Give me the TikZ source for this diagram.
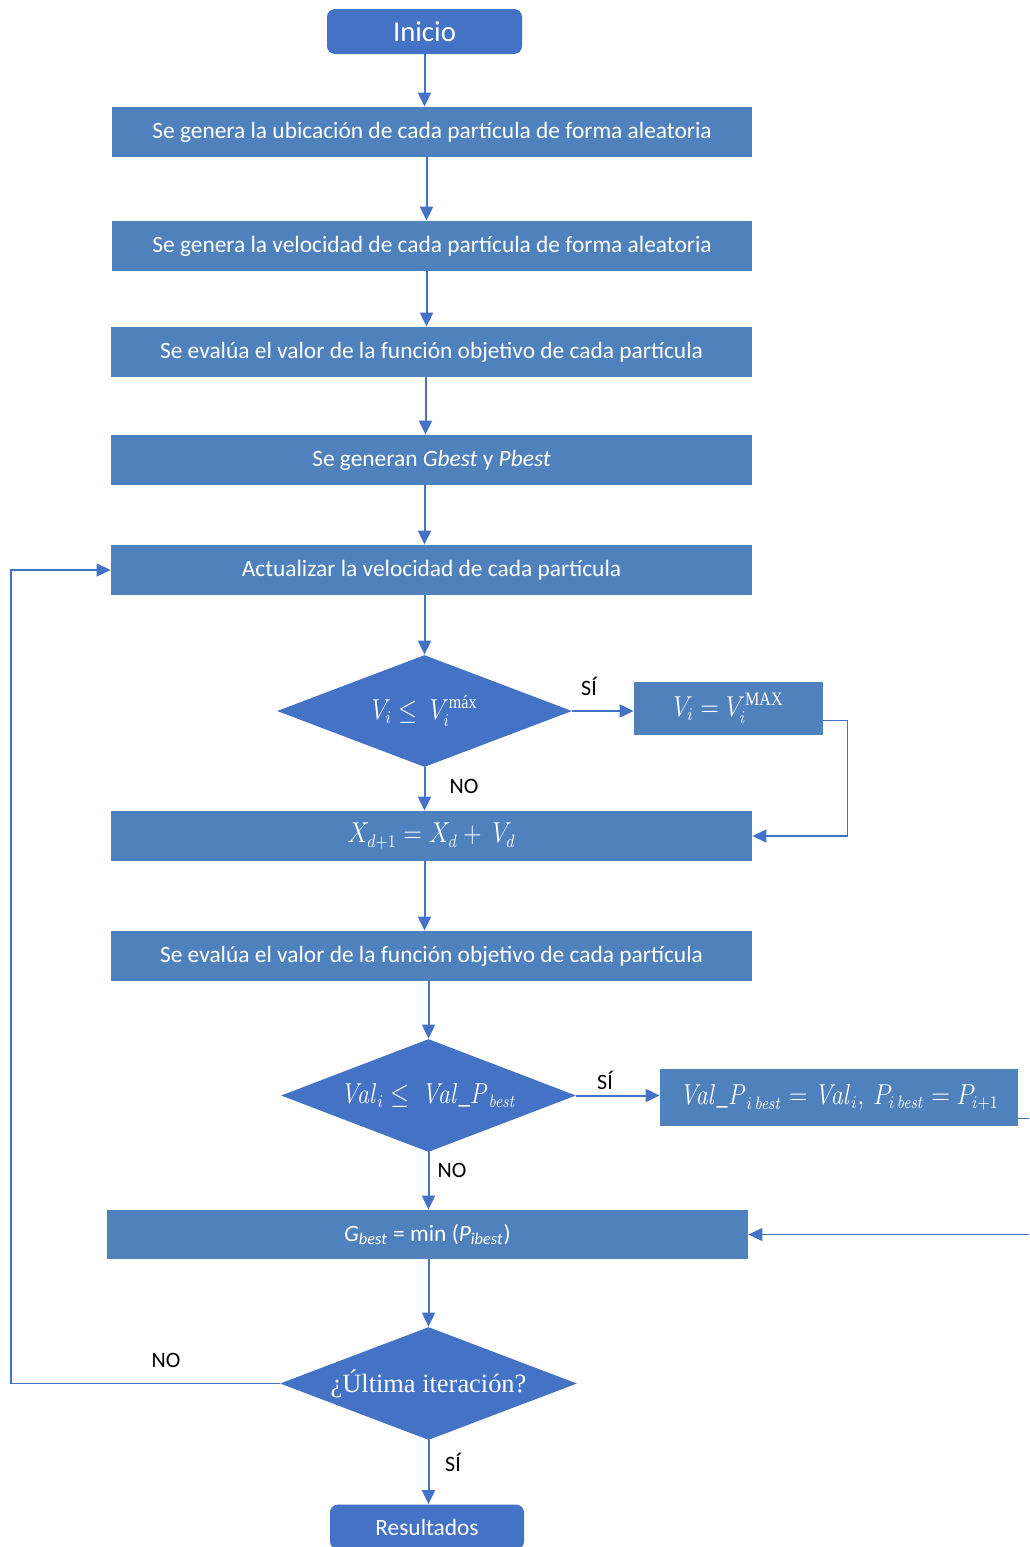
\documentclass[tikz,border=0pt]{standalone}
\usepackage[no-math]{fontspec}
\usepackage{amsmath}
\setmainfont{Carlito}
\newfontfamily\serifont{Liberation Serif}
\usetikzlibrary{arrows.meta,shapes.geometric}
\definecolor{boxblue}{HTML}{4F81BD}
\definecolor{darkblue}{HTML}{4472C4}
\tikzset{
  procbox/.style={fill=boxblue, text=white, inner sep=0pt, font=\fontsize{11.7}{14}\selectfont},
  decision/.style={diamond, fill=darkblue, text=white, inner sep=0pt, shape aspect=2.6},
  terminal/.style={rounded corners=4pt, fill=darkblue, text=white, inner sep=0pt},
  flow/.style={draw=darkblue, line width=1pt, -{Triangle[length=7pt,width=6.5pt]}},
  thinflow/.style={draw=darkblue, line width=0.6pt, -{Triangle[length=7pt,width=6.5pt]}},
  lbl/.style={font=\fontsize{11}{13}\selectfont, text=black, inner sep=0pt},
  mathtxt/.style={font=\fontsize{13.5}{16}\selectfont}
}
\begin{document}
\begin{tikzpicture}[x=0.5pt,y=-0.5pt]
\useasboundingbox (0,0) rectangle (1029,1547);
\clip (0,0) rectangle (1029,1547);

\node[terminal, minimum width=97.5pt, minimum height=22.5pt, font=\fontsize{14.4}{17}\selectfont] (ini) at (424.5,31.5) {Inicio};
\node[procbox, minimum width=320pt, minimum height=25pt] (b1) at (432,132) {Se genera la ubicación de cada partícula de forma aleatoria};
\node[procbox, minimum width=320pt, minimum height=25pt] (b2) at (432,246) {Se genera la velocidad de cada partícula de forma aleatoria};
\node[procbox, minimum width=320.5pt, minimum height=25pt] (b3) at (431.5,352) {Se evalúa el valor de la función objetivo de cada partícula};
\node[procbox, minimum width=320.5pt, minimum height=25pt] (b4) at (431.5,460) {Se generan \textit{Gbest} y \textit{Pbest}};
\node[procbox, minimum width=320.5pt, minimum height=25pt] (b5) at (431.5,570) {Actualizar la velocidad de cada partícula};

\node[decision, mathtxt, minimum width=147.5pt, minimum height=56pt] (d1) at (424.5,711) {\scalebox{0.85}[1]{$V_i \leq\ V_i^{\text{\serifont máx}}$}};
\node[procbox, mathtxt, minimum width=94.5pt, minimum height=26.5pt] (bV) at (728.5,708.5) {\scalebox{0.85}[1]{$V_i = V_i^{\text{\serifont MAX}}$}};
\node[procbox, mathtxt, minimum width=320.5pt, minimum height=25pt] (bX) at (431.5,836) {\scalebox{0.85}[1]{$X_{d+1} = X_d +\ V_d$}};
\node[procbox, minimum width=320.5pt, minimum height=25pt] (b6) at (431.5,956) {Se evalúa el valor de la función objetivo de cada partícula};

\node[decision, mathtxt, minimum width=147.5pt, minimum height=56.5pt] (d2) at (428.5,1095.5) {\scalebox{0.85}[1]{$\mathit{Val}_i \leq\ \mathit{Val\_P}_{\mathit{best}}$}};
\node[procbox, mathtxt, minimum width=179pt, minimum height=28.5pt] (bVal) at (839,1097.5) {\scalebox{0.85}[1]{$\mathit{Val\_P}_{i\,\mathit{best}} = \mathit{Val}_i,\ P_{i\,\mathit{best}} = P_{i+1}$}};
\node[procbox, minimum width=320.5pt, minimum height=24.5pt] (bG) at (427.5,1234.5) {\textit{G}\textsubscript{\textit{best}} = min (\textit{P}\textsubscript{\textit{ibest}})};

\node[decision, minimum width=148.5pt, minimum height=56.5pt, font=\serifont\fontsize{13.2}{16}\selectfont] (d3) at (428.5,1383.5) {¿Última iteración?};
\node[terminal, minimum width=97pt, minimum height=22.5pt, font=\fontsize{11.7}{14}\selectfont] (res) at (427,1527) {Resultados};

\coordinate (lp) at (11,0);

% main flow
\draw[flow] (ini.south) -- (ini.south |- b1.north);
\draw[flow] (ini.south |- b1.south) ++(2,0) coordinate (t1) -- (t1 |- b2.north);
\draw[flow] (t1 |- b2.south) -- (t1 |- b3.north);
\draw[flow] ([xshift=-0.5pt]t1 |- b3.south) -- ([xshift=-0.5pt]t1 |- b4.north);
\draw[flow] (ini.south |- b4.south) -- (ini.south |- b5.north);
\draw[flow] (d1.north |- b5.south) -- (d1.north);
\draw[flow] (d1.south) -- (d1.south |- bX.north);
\draw[flow] (d1.east) -- (d1.east -| bV.west);
\draw[thinflow] ([yshift=7.5pt]bV.south east) -| ([xshift=12pt]bV.east |- bX.east) -- (bX.east);
\draw[flow] (d1.south |- bX.south) -- (d1.south |- b6.north);
\draw[flow] (d2.north |- b6.south) -- (d2.north);
\draw[flow] (d2.east) -- (d2.east -| bVal.west);
\draw[flow] (d2.south) -- (d2.south |- bG.north);
\draw[thinflow] ([yshift=4pt]bVal.south east) -| ([xshift=20pt]bVal.east |- bG.east) -- (bG.east);
\draw[flow] (d3.north |- bG.south) -- (d3.north);
\draw[flow] (d3.south) -- (d3.south |- res.north);
\draw[thinflow] (d3.west) -- (d3.west -| lp) |- (b5.west);

% labels
\node[lbl] (l1) at (589,686) {SÍ};
\node[lbl] (l2) at (464,786) {NO};
\node[lbl] (l3) at (605,1080) {SÍ};
\node[lbl] (l4) at (452,1170) {NO};
\node[lbl] (l5) at (166,1360) {NO};
\node[lbl] (l6) at (453,1462) {SÍ};
\end{tikzpicture}
\end{document}
